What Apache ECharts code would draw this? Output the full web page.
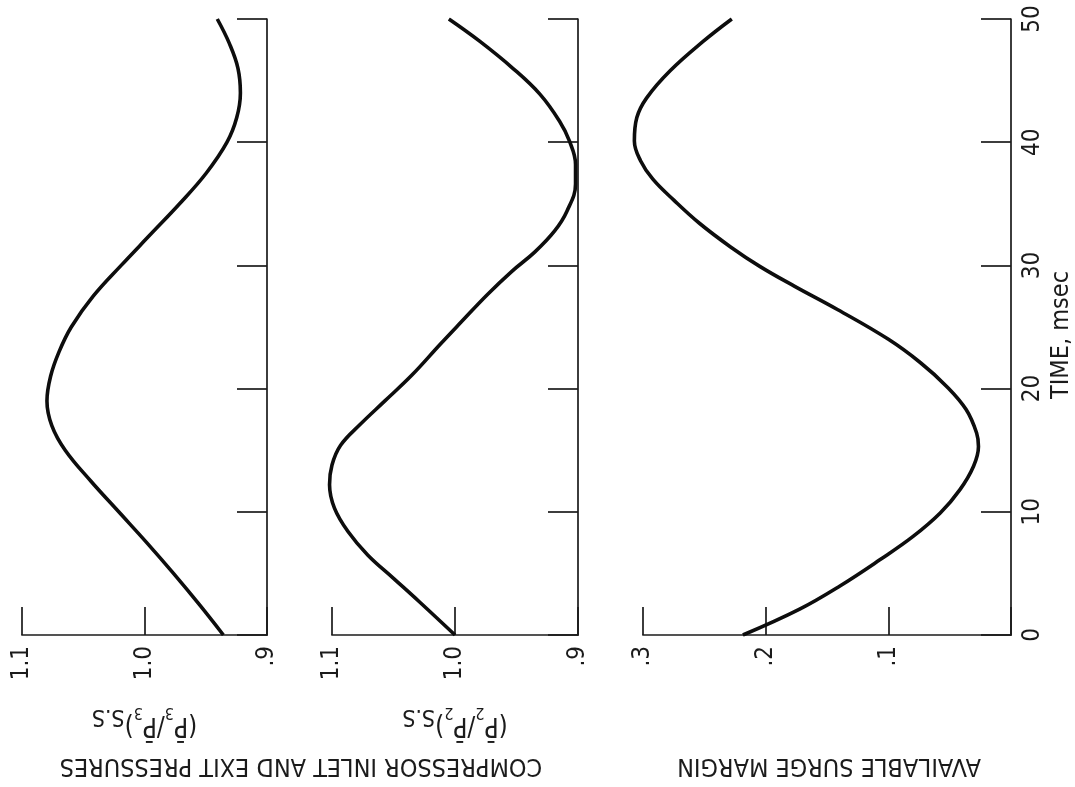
<!DOCTYPE html>
<html>
<head>
<meta charset="utf-8">
<title>Compressor pressures and available surge margin</title>
<style>
  html, body { margin: 0; padding: 0; background: #ffffff; }
  #chart { width: 1075px; height: 787px; }
</style>
<script src="https://cdn.jsdelivr.net/npm/echarts@6/dist/echarts.min.js"></script>
</head>
<body>
<div id="chart"></div>
<script>
// Time axis, msec
const timeTicks = [0, 10, 20, 30, 40, 50];
const timeLabels = ['0', '10', '20', '30', '40', '50'];

// Pressure-ratio axis ticks and their printed labels
const ratioTicks = [0.9, 1.0, 1.1];
const ratioLabels = ['.9', '1.0', '1.1'];

// Surge-margin axis ticks (the corner zero is shared with the time axis)
const marginTicks = [0, 0.1, 0.2, 0.3];
const marginLabels = ['', '.1', '.2', '.3'];

// Compressor exit pressure ratio, (P3 / P3 mean) steady state
const exitTime  = [0, 2.5, 5, 7.5, 10, 12.5, 15, 17, 19, 21, 23, 25, 27.5, 30, 32.5, 35, 37.5, 40, 42, 44, 46, 48, 50];
const exitRatio = [0.936, 0.956, 0.977, 0.999, 1.022, 1.045, 1.066, 1.077, 1.081, 1.078, 1.071, 1.061, 1.043, 1.020, 0.996, 0.972, 0.950, 0.933, 0.925, 0.922, 0.924, 0.931, 0.941];

// Compressor inlet pressure ratio, (P2 / P2 mean) steady state
const inletTime  = [0, 2.7, 4.6, 6.5, 8.4, 10.3, 12.2, 13.8, 15.4, 17.1, 19.0, 21.1, 23.6, 25.4, 27.6, 29.5, 31.1, 32.8, 34.4, 36.6, 38.2, 40.1, 41.7, 43.9, 46.0, 48.2, 50];
const inletRatio = [1.000, 1.029, 1.050, 1.071, 1.087, 1.098, 1.102, 1.100, 1.093, 1.077, 1.057, 1.035, 1.012, 0.995, 0.974, 0.954, 0.935, 0.919, 0.909, 0.902, 0.902, 0.907, 0.915, 0.931, 0.953, 0.980, 1.005];

// Available surge margin
const surgeTime   = [0, 2.1, 4.0, 6.1, 8.0, 9.9, 11.8, 13.7, 15.3, 16.4, 18.3, 20.2, 22.1, 24.0, 26.4, 28.3, 29.9, 31.5, 33.4, 35.3, 37.0, 38.5, 40.1, 42.0, 43.6, 45.8, 48.2, 50];
const surgeMargin = [0.219, 0.173, 0.140, 0.108, 0.081, 0.059, 0.043, 0.032, 0.028, 0.0295, 0.038, 0.054, 0.075, 0.101, 0.142, 0.177, 0.205, 0.229, 0.254, 0.275, 0.292, 0.302, 0.307, 0.305, 0.297, 0.278, 0.251, 0.228];

const FONT = '"DejaVu Sans Condensed", "Liberation Sans Narrow", "DejaVu Sans", sans-serif';
const INK = '#1b1b1b';
const AXIS_W = 1.7;

// Panel frames: pixel box of each plot and the range of its value axis
const PLOT_TOP = 19, PLOT_H = 616;
const panels = [
  { left: 22,  width: 245, min: 0.9, max: 1.1 },
  { left: 332, width: 246, min: 0.9, max: 1.1 },
  { left: 643, width: 370, min: 0,   max: 0.3 }
];
// Curves are drawn on a slightly wider, axis-less copy of each panel so a
// trace that runs a little past the end of its scale is not cut off.
const OVERHANG = 24;

function labelFor(ticks, labels) {
  return v => {
    const i = ticks.findIndex(t => Math.abs(t - v) < 1e-6);
    return i < 0 ? '' : labels[i];
  };
}

function timeAxis(gridIndex, withLabels) {
  return {
    type: 'value', gridIndex, position: 'right',
    min: 0, max: 50, interval: 10,
    axisLine: { show: true, lineStyle: { color: INK, width: AXIS_W } },
    axisTick: { show: true, inside: true, length: 30, lineStyle: { color: INK, width: AXIS_W } },
    axisLabel: {
      show: withLabels, rotate: 90, margin: 10,
      color: INK, fontFamily: FONT, fontSize: 24,
      formatter: labelFor(timeTicks, timeLabels)
    },
    splitLine: { show: false },
    name: withLabels ? 'TIME, msec' : '',
    nameLocation: 'middle', nameRotate: 90, nameGap: 38,
    nameTextStyle: { color: INK, fontFamily: FONT, fontSize: 25, padding: [0, 16, 0, 0] }
  };
}

function valueAxis(gridIndex, p, ticks, labels, name) {
  return {
    type: 'value', gridIndex, position: 'bottom', inverse: true,
    min: p.min, max: p.max, interval: 0.1,
    axisLine: { show: true, lineStyle: { color: INK, width: AXIS_W } },
    axisTick: { show: true, inside: true, length: 28, lineStyle: { color: INK, width: AXIS_W } },
    axisLabel: {
      rotate: 90, margin: 11,
      color: INK, fontFamily: FONT, fontSize: 24,
      formatter: labelFor(ticks, labels)
    },
    splitLine: { show: false },
    name: name || '',
    nameLocation: 'middle', nameRotate: 180, nameGap: 69,
    nameTextStyle: {
      color: INK, fontFamily: FONT, fontSize: 26,
      rich: {
        p:  { fontFamily: FONT, fontSize: 26, color: INK, lineHeight: 42 },
        s:  { fontFamily: FONT, fontSize: 16, color: INK, lineHeight: 16, verticalAlign: 'bottom' },
        ss: { fontFamily: FONT, fontSize: 23, color: INK, lineHeight: 23, verticalAlign: 'bottom' }
      }
    }
  };
}

function hiddenValueAxis(gridIndex, p) {
  const perPx = (p.max - p.min) / p.width;
  return {
    type: 'value', gridIndex, inverse: true, show: false,
    min: p.min - OVERHANG * perPx, max: p.max + OVERHANG * perPx,
    splitLine: { show: false }
  };
}

function hiddenTimeAxis(gridIndex) {
  return { type: 'value', gridIndex, show: false, min: 0, max: 50, splitLine: { show: false } };
}

function curve(axisIndex, times, values) {
  return {
    type: 'line', xAxisIndex: axisIndex, yAxisIndex: axisIndex,
    data: times.map((t, i) => [values[i], t]),
    smooth: 0.4, showSymbol: false,
    lineStyle: { color: '#0d0d0d', width: 3.6 },
    animation: false
  };
}

const frameGrids = panels.map(p => ({ left: p.left, top: PLOT_TOP, width: p.width, height: PLOT_H }));
const traceGrids = panels.map(p => ({
  left: p.left - OVERHANG, top: PLOT_TOP, width: p.width + 2 * OVERHANG, height: PLOT_H
}));

const chart = echarts.init(document.getElementById('chart'), null, { renderer: 'canvas' });

chart.setOption({
  backgroundColor: '#ffffff',
  animation: false,
  grid: frameGrids.concat(traceGrids),
  xAxis: [
    valueAxis(0, panels[0], ratioTicks, ratioLabels, '{p|(P\u0304}{s|3}{p|/P\u0304}{s|3}{p|)}{ss|S.S}'),
    valueAxis(1, panels[1], ratioTicks, ratioLabels, '{p|(P\u0304}{s|2}{p|/P\u0304}{s|2}{p|)}{ss|S.S}'),
    valueAxis(2, panels[2], marginTicks, marginLabels, ''),
    hiddenValueAxis(3, panels[0]),
    hiddenValueAxis(4, panels[1]),
    hiddenValueAxis(5, panels[2])
  ],
  yAxis: [
    timeAxis(0, false),
    timeAxis(1, false),
    timeAxis(2, true),
    hiddenTimeAxis(3),
    hiddenTimeAxis(4),
    hiddenTimeAxis(5)
  ],
  series: [
    curve(3, exitTime, exitRatio),
    curve(4, inletTime, inletRatio),
    curve(5, surgeTime, surgeMargin)
  ],
  graphic: [
    {
      type: 'text', x: 301, y: 765, rotation: Math.PI,
      style: {
        text: 'COMPRESSOR INLET AND EXIT PRESSURES',
        font: '25px ' + FONT, fill: INK, align: 'center', verticalAlign: 'middle'
      }
    },
    {
      type: 'text', x: 829, y: 765, rotation: Math.PI,
      style: {
        text: 'AVAILABLE SURGE MARGIN',
        font: '25px ' + FONT, fill: INK, align: 'center', verticalAlign: 'middle'
      }
    }
  ]
});
</script>
</body>
</html>
